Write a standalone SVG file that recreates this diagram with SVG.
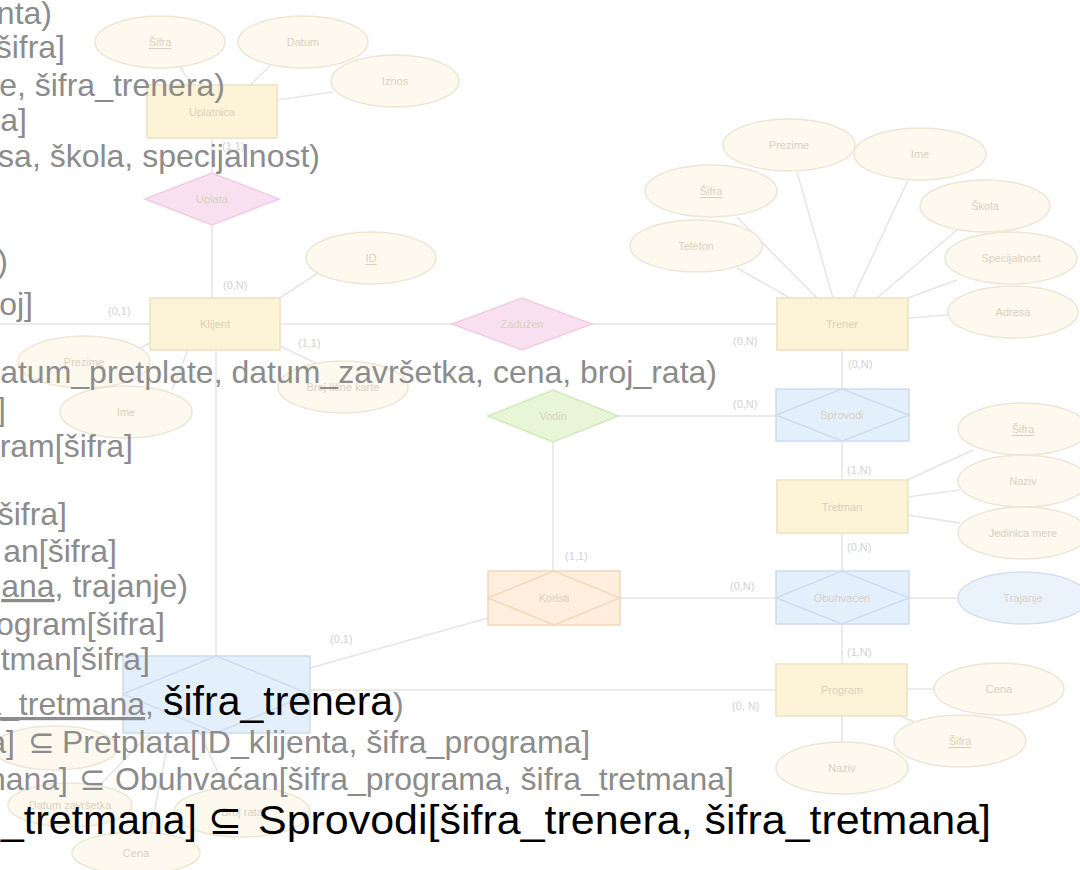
<svg xmlns="http://www.w3.org/2000/svg" width="1080" height="870" viewBox="0 0 1080 870">
<style>
.ent{fill:#fdf3d6;stroke:#ece2c3;stroke-width:1.5}
.att{fill:#fdf9ef;stroke:#ece6d4;stroke-width:1.5}
.attb{fill:#eaf2fc;stroke:#d4dfef;stroke-width:1.5}
.pink{fill:#f9e0f0;stroke:#f0cbe2;stroke-width:1.5}
.green{fill:#e7f6d6;stroke:#d0e9bb;stroke-width:1.5}
.blue{fill:#e4effc;stroke:#cddcf0;stroke-width:1.5}
.orange{fill:#fdeedd;stroke:#f0d8bc;stroke-width:1.5}
.conn{stroke:#e5e5e5;stroke-width:1.5;fill:none}
.lbl{font-family:"Liberation Sans",Arial,sans-serif;font-size:11px;fill:#d8d1bd;text-anchor:middle;dominant-baseline:central}
.card{font-family:"Liberation Sans",Arial,sans-serif;font-size:11px;fill:#d2d2d2}
.t{font-family:"Liberation Sans","DejaVu Sans",sans-serif;font-size:32px;fill:#8c8c8c}
.tb{font-family:"Liberation Sans","DejaVu Sans",sans-serif;font-size:41px;fill:#000000}
</style>
<rect width="1080" height="870" fill="#ffffff"/>

<g id="connectors">
<path class="conn" d="M212,138 V173 M212,225 V298 M180,67 L192,85 M272,64 L250,85 M333,92 L277,100 M318,273 L280,298 M0,324 H150 M140,348 L150,343 M172,390 L188,350 M322,366 L280,346 M280,324 H452 M592,324 H777 M216,350 V656"/>
<path class="conn" d="M842,350 V389 M618,416 H776 M553,442 V571 M842,441 V480 M842,533 V571 M620,598 H776 M909,598 H958 M842,624 V664 M776,690 H310 M488,618 L310,668"/>
<path class="conn" d="M737,268 L790,298 M737,217 L817,298 M797,172 L833,298 M908,180 L853,298 M957,230 L877,298 M957,280 L908,298 M908,318 L948,315"/>
<path class="conn" d="M907,480 L973,450 M907,497 L960,490 M907,515 L960,523 M907,689 H934 M900,716 L915,722 M842,716 V742"/>
<path class="conn" d="M150,733 L100,785 M200,733 L225,788 M170,733 L150,833"/>
<text class="card" x="222" y="150">(1,1)</text>
<text class="card" x="223" y="289">(0,N)</text>
<text class="card" x="108" y="315">(0,1)</text>
<text class="card" x="298" y="347">(1,1)</text>
<text class="card" x="733" y="345">(0,N)</text>
<text class="card" x="848" y="368">(0,N)</text>
<text class="card" x="733" y="408">(0,N)</text>
<text class="card" x="847" y="474">(1,N)</text>
<text class="card" x="847" y="551">(0,N)</text>
<text class="card" x="565" y="560">(1,1)</text>
<text class="card" x="730" y="590">(0,N)</text>
<text class="card" x="847" y="656">(1,N)</text>
<text class="card" x="732" y="710">(0, N)</text>
<text class="card" x="330" y="643">(0,1)</text>
</g>

<g id="uplatnica"><rect class="ent" x="147" y="85" width="130" height="53"/><text class="lbl" x="212" y="112">Uplatnica</text></g>
<g id="uplatnica-sifra"><ellipse class="att" cx="160" cy="42" rx="65" ry="26"/><text class="lbl" x="160" y="42" text-decoration="underline">Šifra</text></g>
<g id="uplatnica-datum"><ellipse class="att" cx="303" cy="42" rx="65" ry="26"/><text class="lbl" x="303" y="42">Datum</text></g>
<g id="uplatnica-iznos"><ellipse class="att" cx="395" cy="81" rx="64" ry="26"/><text class="lbl" x="395" y="81">Iznos</text></g>
<g id="uplata"><polygon class="pink" points="145,199 212,173 279,199 212,225"/><text class="lbl" x="212" y="199">Uplata</text></g>

<g id="klijent"><rect class="ent" x="150" y="298" width="130" height="52"/><text class="lbl" x="215" y="324">Klijent</text></g>
<g id="klijent-id"><ellipse class="att" cx="371" cy="258" rx="65" ry="26"/><text class="lbl" x="371" y="258" text-decoration="underline">ID</text></g>
<g id="klijent-prezime"><ellipse class="att" cx="84" cy="362" rx="66" ry="26"/><text class="lbl" x="84" y="362">Prezime</text></g>
<g id="klijent-ime"><ellipse class="att" cx="126" cy="412" rx="66" ry="26"/><text class="lbl" x="126" y="412">Ime</text></g>
<g id="klijent-broj"><ellipse class="att" cx="343" cy="387" rx="65" ry="26"/><text class="lbl" x="343" y="387">Broj lične karte</text></g>

<g id="zaduzen"><polygon class="pink" points="452,324 522,298 592,324 522,350"/><text class="lbl" x="522" y="324">Zadužen</text></g>
<g id="vodi"><polygon class="green" points="488,416 553,390 618,416 553,442"/><text class="lbl" x="553" y="416">Vodin</text></g>

<g id="trener"><rect class="ent" x="777" y="298" width="131" height="52"/><text class="lbl" x="842" y="324">Trener</text></g>
<g id="trener-prezime"><ellipse class="att" cx="789" cy="145" rx="66" ry="26"/><text class="lbl" x="789" y="145">Prezime</text></g>
<g id="trener-ime"><ellipse class="att" cx="920" cy="154" rx="66" ry="26"/><text class="lbl" x="920" y="154">Ime</text></g>
<g id="trener-sifra"><ellipse class="att" cx="711" cy="191" rx="66" ry="26"/><text class="lbl" x="711" y="191" text-decoration="underline">Šifra</text></g>
<g id="trener-telefon"><ellipse class="att" cx="696" cy="246" rx="66" ry="26"/><text class="lbl" x="696" y="246">Telefon</text></g>
<g id="trener-skola"><ellipse class="att" cx="985" cy="206" rx="65" ry="26"/><text class="lbl" x="985" y="206">Škola</text></g>
<g id="trener-specijalnost"><ellipse class="att" cx="1011" cy="258" rx="66" ry="26"/><text class="lbl" x="1011" y="258">Specijalnost</text></g>
<g id="trener-adresa"><ellipse class="att" cx="1013" cy="312" rx="65" ry="26"/><text class="lbl" x="1013" y="312">Adresa</text></g>

<g id="sprovodi"><rect class="blue" x="776" y="389" width="133" height="52"/><polygon class="blue" points="776,415 842,389 909,415 842,441"/><text class="lbl" x="842" y="415">Sprovodi</text></g>
<g id="tretman"><rect class="ent" x="777" y="480" width="131" height="53"/><text class="lbl" x="842" y="507">Tretman</text></g>
<g id="tretman-sifra"><ellipse class="att" cx="1023" cy="429" rx="65" ry="26"/><text class="lbl" x="1023" y="429" text-decoration="underline">Šifra</text></g>
<g id="tretman-naziv"><ellipse class="att" cx="1023" cy="481" rx="65" ry="26"/><text class="lbl" x="1023" y="481">Naziv</text></g>
<g id="tretman-jedinica"><ellipse class="att" cx="1023" cy="533" rx="65" ry="26"/><text class="lbl" x="1023" y="533">Jedinica mere</text></g>
<g id="obuhvacen"><rect class="blue" x="776" y="571" width="133" height="53"/><polygon class="blue" points="776,598 842,571 909,598 842,624"/><text class="lbl" x="842" y="598">Obuhvaćen</text></g>
<g id="obuhvacen-trajanje"><ellipse class="attb" cx="1023" cy="598" rx="65" ry="26"/><text class="lbl" x="1023" y="598">Trajanje</text></g>
<g id="koristi"><rect class="orange" x="488" y="571" width="132" height="54"/><polygon class="orange" points="488,598 554,571 620,598 554,625"/><text class="lbl" x="554" y="598">Koristi</text></g>

<g id="program"><rect class="ent" x="776" y="664" width="131" height="52"/><text class="lbl" x="842" y="690">Program</text></g>
<g id="program-cena"><ellipse class="att" cx="999" cy="689" rx="65" ry="26"/><text class="lbl" x="999" y="689">Cena</text></g>
<g id="program-sifra"><ellipse class="att" cx="960" cy="741" rx="66" ry="26"/><text class="lbl" x="960" y="741" text-decoration="underline">Šifra</text></g>
<g id="program-naziv"><ellipse class="att" cx="842" cy="768" rx="66" ry="26"/><text class="lbl" x="842" y="768">Naziv</text></g>

<g id="pretplata"><rect class="blue" x="123" y="656" width="187" height="77"/><polygon class="blue" points="123,694 216,656 310,694 216,733"/></g>
<g id="pretplata-datum-pretplate"><ellipse class="att" cx="55" cy="748" rx="62" ry="22"/></g>
<g id="pretplata-datum-zavrsetka"><ellipse class="att" cx="70" cy="805" rx="62" ry="22"/><text class="lbl" x="70" y="805">Datum završetka</text></g>
<g id="pretplata-cena"><ellipse class="att" cx="136" cy="853" rx="64" ry="21"/><text class="lbl" x="136" y="853">Cena</text></g>
<g id="pretplata-broj-rata"><ellipse class="att" cx="242" cy="812" rx="68" ry="25"/><text class="lbl" x="242" y="812">Broj rata</text></g>

<g id="text-overlay">
<text class="t" x="52" y="24" text-anchor="end">nta)</text>
<text class="t" x="65" y="58" text-anchor="end">šifra]</text>
<text class="t" x="225" y="96" text-anchor="end">e, šifra_trenera)</text>
<text class="t" x="27" y="131" text-anchor="end">ra]</text>
<text class="t" x="320" y="167" text-anchor="end">sa, škola, specijalnost)</text>
<text class="t" x="8" y="272" text-anchor="end">)</text>
<text class="t" x="33" y="315" text-anchor="end">roj]</text>
<text class="t" x="717" y="383" text-anchor="end">datum_pretplate, datum_završetka, cena, broj_rata)</text>
<text class="t" x="6" y="420" text-anchor="end">]</text>
<text class="t" x="133" y="457" text-anchor="end">ram[šifra]</text>
<text class="t" x="67" y="525" text-anchor="end">šifra]</text>
<text class="t" x="117" y="562" text-anchor="end">an[šifra]</text>
<text class="t" x="188" y="597" text-anchor="end"><tspan text-decoration="underline">ana</tspan>, trajanje)</text>
<text class="t" x="165" y="635" text-anchor="end">rogram[šifra]</text>
<text class="t" x="150" y="670" text-anchor="end">etman[šifra]</text>
<text class="t" x="154" y="715" text-anchor="end"><tspan text-decoration="underline">a_tretmana</tspan>,</text>
<text class="tb" x="163" y="715">šifra_trenera</text>
<text class="t" x="393" y="715">)</text>
<text class="t" x="15" y="753" text-anchor="end">a]</text>
<text class="t" x="28" y="753">⊆</text>
<text class="t" x="62" y="753">Pretplata[ID_klijenta, šifra_programa]</text>
<text class="t" x="68" y="790" text-anchor="end">nana]</text>
<text class="t" x="79" y="790">⊆</text>
<text class="t" x="115" y="790">Obuhvaćan[šifra_programa, šifra_tretmana]</text>
<text class="tb" x="197" y="834" text-anchor="end" font-size="45">_tretmana]</text>
<text class="tb" x="208" y="834" font-size="45">⊆</text>
<text class="tb" x="258" y="834" font-size="45" textLength="733" lengthAdjust="spacingAndGlyphs">Sprovodi[šifra_trenera, šifra_tretmana]</text>
</g>
</svg>
